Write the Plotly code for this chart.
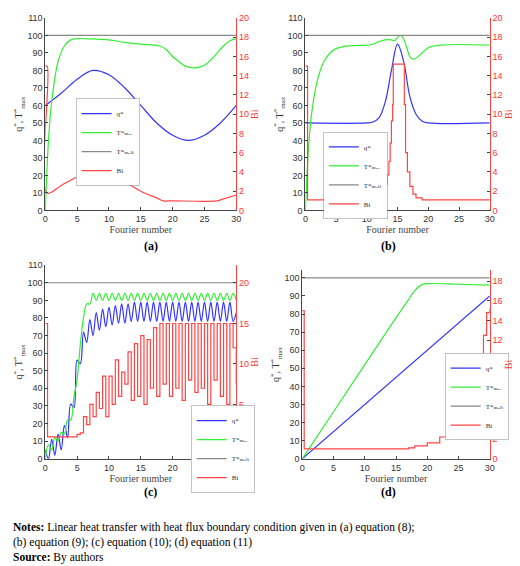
import plotly.graph_objects as go

# ---- panel (a) ----
a_fo = [0, 2.5, 5, 7.5, 10, 12.5, 15, 17.5, 20, 22.5, 25, 27.5, 30]
a_q = [60, 67, 75, 80, 77.5, 70, 60, 50, 43, 40, 43, 50, 60]
a_t_fo = [0, 0.5, 1, 2, 3, 4, 5, 7.5, 10, 12.5, 15, 18, 19, 20, 21, 22, 23.5, 25, 26, 27, 28, 29, 30]
a_t = [0, 40, 62, 85, 94, 97.5, 98.2, 98, 97.5, 96, 95, 94, 92, 88, 85, 82.5, 81.5, 83, 86, 90, 94, 97, 98]
a_bi_fo = [0, 0.3, 0.3, 2.5, 5, 7.5, 10, 12.5, 15, 17.5, 18.5, 20, 27, 28, 30]
a_bi = [15, 15, 1.8, 2.6, 3.5, 4.5, 4.2, 3.0, 2.0, 1.3, 1.0, 1.0, 1.0, 1.2, 1.6]

# ---- panel (b) ----
b_fo = [0, 10, 11, 12, 13, 14, 15, 16, 17, 18, 19, 20, 30]
b_q = [50, 50, 50.5, 53, 62, 80, 95, 85, 65, 55, 51, 50, 50]
b_t_fo = [0, 0.5, 1, 2, 3, 4, 5, 7, 10, 11, 12, 13, 14, 14.5, 15, 15.5, 16, 16.5, 17, 17.5, 18, 19, 20, 22, 30]
b_t = [0, 35, 55, 75, 85, 90, 92.5, 94, 94.5, 95, 96.5, 97.5, 97.5, 97, 99, 100, 98, 93, 88, 86.5, 87, 90, 93, 94.5, 94.5]
b_bi_fo = [0, 0.35, 11, 11.5, 12, 12.5, 13, 13.3, 13.6, 13.8, 14, 14.2, 14.3, 16.1, 16.3, 16.6, 17, 17.5, 18, 19, 30]
b_bi = [15, 1.1, 1.2, 1.4, 1.7, 2.1, 2.7, 3.7, 5.1, 7, 9.3, 11, 15.2, 11, 6, 4, 2.5, 1.7, 1.3, 1.1, 1.1]

# ---- panel (c) ----
c_fo = [0, 0.5, 1, 1.5, 2, 2.5, 3, 3.5, 4, 4.5, 5, 5.5, 6, 6.5, 7, 7.5, 8, 8.5, 9, 9.5,
        10, 10.5, 11, 11.5, 12, 12.5, 13, 13.5, 14, 14.5, 15, 15.5, 16, 16.5, 17, 17.5,
        18, 18.5, 19, 19.5, 20, 20.5, 21, 21.5, 22, 22.5, 23, 23.5, 24, 24.5, 25, 25.5,
        26, 26.5, 27, 27.5, 28, 28.5, 29, 29.5, 30]
c_q = [5, 0, 11, 2, 14, 5, 19, 12, 31, 29, 56, 54, 72, 66, 79, 70, 83, 73, 85, 75,
       86, 76, 87, 77, 88, 77, 88, 78, 89, 78, 89, 78, 89, 78, 89, 78,
       89, 78, 89, 78, 89, 78, 89, 78, 89, 78, 89, 78, 89, 78, 89, 78,
       89, 78, 89, 78, 89, 78, 89, 78, 83]
c_t = [0, 8, 5, 12, 10, 15, 14, 22, 22, 35, 45, 65, 80, 88, 88, 94, 90, 94, 90, 94,
       90, 94, 90, 94, 90, 94, 90, 94, 90, 94, 90, 94, 90, 94, 90, 94,
       90, 94, 90, 94, 90, 94, 90, 94, 90, 94, 90, 94, 90, 94, 90, 94,
       90, 94, 90, 94, 90, 94, 90, 94, 90]
c_bi_fo = [0, 0.35, 5, 5.5, 6, 6.5, 7, 7.5, 8, 8.5, 9, 9.5, 10, 10.5, 11, 11.5, 12, 12.5,
           13, 13.5, 14, 14.5, 15, 15.5, 16, 16.5, 17, 17.5, 18, 18.5, 19, 19.5, 20, 20.5,
           21, 21.5, 22, 22.5, 23, 23.5, 24, 24.5, 25, 25.5, 26, 26.5, 27, 27.5, 28, 28.5,
           29, 29.5, 30]
c_bi = [15, 1, 1.3, 1.5, 3.5, 2.5, 5, 3.5, 6.5, 4.5, 8.5, 3.5, 8.5, 5, 10.5, 6, 9, 7.5,
        11.5, 5.5, 12.5, 6, 13.5, 5, 13, 7, 14.5, 6, 15, 7.5, 15, 6, 15, 7,
        15, 5.5, 15, 8, 15, 6.5, 15, 7, 15, 5, 15, 8, 15, 6, 15, 5,
        15, 12, 7.5]

# ---- panel (d) ----
d_fo = [0, 30]
d_q = [0, 90]
d_t_fo = [0, 5, 10, 15, 16, 17, 18, 19, 20, 25, 30]
d_t = [0, 26, 52, 78, 83, 88, 93, 96, 96.8, 96.5, 96]
d_bi_fo = [0, 0.3, 16, 17, 18, 20, 22, 24, 25, 26, 27, 27.5, 28, 28.5, 29, 29.5, 30]
d_bi = [15, 1, 1, 1.1, 1.3, 1.6, 2.2, 3.0, 3.6, 4.5, 5.8, 6.5, 8, 9.5, 12.5, 14.8, 15.2]

t_melt = 100
fo_range = [0, 30]
names = ["q*", "T*ₘₐₓ", "T*ₘₑₗₜ", "Bi"]

panels = [
    dict(x=[0.067, 0.44], y=[0.643, 0.991], q=(a_fo, a_q), t=(a_t_fo, a_t),
         bi=(a_bi_fo, a_bi), bishape="spline", yl=[0, 110], yr=[0, 20], rdt=2,
         leg=(0.127, 0.845)),
    dict(x=[0.575, 0.935], y=[0.643, 0.991], q=(b_fo, b_q), t=(b_t_fo, b_t),
         bi=(b_bi_fo, b_bi), bishape="hv", yl=[0, 110], yr=[0, 20], rdt=2,
         leg=(0.61, 0.785)),
    dict(x=[0.067, 0.44], y=[0.194, 0.544], q=(c_fo, c_q), t=(c_fo, c_t),
         bi=(c_bi_fo, c_bi), bishape="hv", yl=[0, 110], yr=[-1.7, 22.2], rdt=5,
         leg=(0.352, 0.29)),
    dict(x=[0.569, 0.935], y=[0.194, 0.535], q=(d_fo, d_q), t=(d_t_fo, d_t),
         bi=(d_bi_fo, d_bi), bishape="hv", yl=[0, 104.3], yr=[0, 19.1], rdt=2,
         leg=(0.848, 0.385)),
]

serif = "Liberation Serif, DejaVu Serif"
sans = "Liberation Sans"

fig = go.Figure()
layout = {}
for i, p in enumerate(panels):
    n = i + 1
    xa = "x" if n == 1 else f"x{n}"
    yl = "y" if n == 1 else f"y{2 * n - 1}"
    yr = f"y{2 * n}"
    lg = "legend" if n == 1 else f"legend{n}"
    fig.add_trace(go.Scatter(x=p["q"][0], y=p["q"][1], mode="lines", name=names[0],
                             line=dict(color="#3333ff", width=1.2, shape="spline"),
                             xaxis=xa, yaxis=yl, legend=lg))
    fig.add_trace(go.Scatter(x=p["t"][0], y=p["t"][1], mode="lines", name=names[1],
                             line=dict(color="#33ee33", width=1.2, shape="spline"),
                             xaxis=xa, yaxis=yl, legend=lg))
    fig.add_trace(go.Scatter(x=fo_range, y=[t_melt, t_melt], mode="lines", name=names[2],
                             line=dict(color="#888888", width=1.2),
                             xaxis=xa, yaxis=yl, legend=lg))
    fig.add_trace(go.Scatter(x=p["bi"][0], y=p["bi"][1], mode="lines", name=names[3],
                             line=dict(color="#ff4444", width=1.2, shape=p["bishape"]),
                             xaxis=xa, yaxis=yr, legend=lg))
    layout["xaxis" if n == 1 else f"xaxis{n}"] = dict(
        domain=p["x"], anchor=yl, range=fo_range, dtick=5, showline=True,
        linecolor="#444", ticks="inside", ticklen=3, showgrid=False, zeroline=False,
        tickfont=dict(family=sans, size=9, color="#333"),
        title=dict(text="Fourier number", font=dict(family=serif, size=10, color="#444"),
                   standoff=0))
    layout["yaxis" if n == 1 else f"yaxis{2 * n - 1}"] = dict(
        domain=p["y"], anchor=xa, range=p["yl"], dtick=10, showline=True,
        linecolor="#444", ticks="inside", ticklen=3, showgrid=False, zeroline=False,
        tickfont=dict(family=sans, size=9, color="#333"),
        title=dict(text="q<sup>*</sup>, T<sup>*</sup><sub>max</sub>",
                   font=dict(family=serif, size=10, color="#333"), standoff=2))
    layout[f"yaxis{2 * n}"] = dict(
        overlaying=yl, anchor=xa, side="right", range=p["yr"], dtick=p["rdt"],
        tick0=0, showline=True, linecolor="#ff4444", ticks="inside", ticklen=3,
        showgrid=False, zeroline=False,
        tickfont=dict(family=sans, size=9, color="#ff3333"),
        title=dict(text="Bi", font=dict(family=serif, size=10, color="#ff3333"),
                   standoff=2))
    layout[lg] = dict(x=p["leg"][0], y=p["leg"][1], xanchor="left", yanchor="top",
                      bgcolor="white", bordercolor="#888", borderwidth=0.5,
                      font=dict(family=serif, size=7, color="#333"),
                      itemwidth=30, tracegroupgap=0)

fig.update_layout(**layout)

labels = [("(a)", 0.255, 0.578), ("(b)", 0.755, 0.578), ("(c)", 0.255, 0.118),
          ("(d)", 0.755, 0.118)]
for txt, x, y in labels:
    fig.add_annotation(text=f"<b>{txt}</b>", x=x, y=y, xref="paper", yref="paper",
                       showarrow=False, font=dict(family=serif, size=12, color="black"))

fig.add_annotation(
    text="<b>Notes:</b> Linear heat transfer with heat flux boundary condition given in "
         "(a) equation (8);<br>(b) equation (9); (c) equation (10); (d) equation (11)"
         "<br><b>Source:</b> By authors",
    x=0.0, y=0.0, xref="paper", yref="paper", xanchor="left", yanchor="bottom",
    align="left", showarrow=False, font=dict(family=serif, size=11.5, color="black"))

fig.update_layout(width=520, height=566, margin=dict(l=0, r=0, t=0, b=8),
                  plot_bgcolor="white", paper_bgcolor="white")
fig.write_html("out.html")
